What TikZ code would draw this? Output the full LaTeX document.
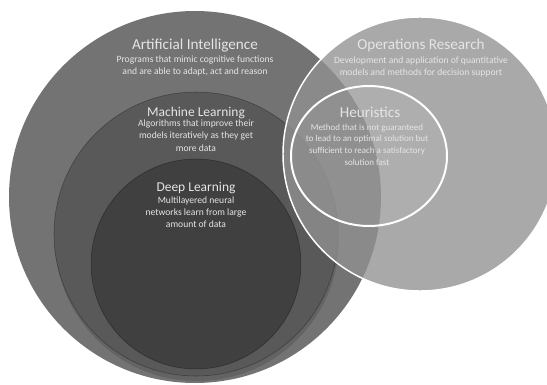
\documentclass[tikz,border=0pt]{standalone}
\usepackage{fontspec}
\setmainfont{Carlito}
\usepackage{xcolor}

\definecolor{aigray}{gray}{0.45}
\definecolor{mlshade}{gray}{0.39}
\definecolor{mlgray}{gray}{0.35}
\definecolor{dlgray}{gray}{0.25}
\definecolor{orgray}{gray}{0.57}
\definecolor{labelgray}{gray}{0.9}

\tikzset{
  every node/.style = {text=labelgray, font=\fontsize{7.2}{8.8}\selectfont}
}
\tikzset{
  heading/.style = {anchor=base, inner sep=0pt, font=\fontsize{11.4}{13}\selectfont},
  subheading/.style = {heading, font=\fontsize{10.1}{12}\selectfont},
  blurb/.style = {anchor=north, inner sep=0pt, align=center, execute at begin node=\strut},
  rim/.style = {draw=black, draw opacity=0.35, line width=0.4pt}
}

\begin{document}
\begin{tikzpicture}[x=0.75pt, y=-0.75pt]
\useasboundingbox (0,0) rectangle (547,385);
\def\rai{186}
\def\rml{142}
\def\rdl{105}
\def\ror{137}

\coordinate (AI) at (195,197);
\coordinate (MLs) at (197,239);
\coordinate (ML) at (196,234);
\coordinate (DL) at (196,264);
\coordinate (OR) at (420,154);
\coordinate (HE) at (369,156);

% The nested circles
\fill[aigray] (AI) circle[radius=\rai];
\fill[mlshade] (MLs) circle[radius=\rml];
\fill[mlgray, rim] (ML) circle[radius=\rml];
\fill[dlgray, rim] (DL) circle[radius=\rdl];

% Operations research and heuristics on top
\fill[orgray, fill opacity=0.78] (OR) circle[radius=\ror];
\draw[white, line width=1.1pt] (OR) circle[radius=\ror];
\fill[white, fill opacity=0.06] (HE) ellipse[x radius=78, y radius=70];
\draw[white, line width=1.5pt] (HE) ellipse[x radius=78, y radius=70];

% Labels
\node[heading] (aititle) at (195,49.6) {Artificial Intelligence};
\node[blurb] (aitext) at (195,55.4)
  {Programs that mimic cognitive functions\\and are able to adapt, act and reason};

\node[heading] (ortitle) at (421,49.6) {Operations Research};
\node[blurb] (ortext) at (421,57)
  {Development and application of quantitative\\models and methods for decision support};

\node[subheading] (mltitle) at (196,116.7) {Machine Learning};
\node[blurb, font=\fontsize{7.2}{9.4}\selectfont] (mltext) at (196,119.2)
  {Algorithms that improve their\\models iteratively as they get\\more data};

\node[subheading] (dltitle) at (196,191.7) {Deep Learning};
\node[blurb, font=\fontsize{7.2}{9.2}\selectfont] (dltext) at (196,196.1)
  {Multilayered neural\\networks learn from large\\amount of data};

\node[heading] (hetitle) at (370,117.9) {Heuristics};
\node[blurb, font=\fontsize{6.75}{8.7}\selectfont] (hetext) at (367,123.8)
  {Method that is not guaranteed\\to lead to an optimal solution but\\sufficient to reach a satisfactory\\solution fast};
\end{tikzpicture}
\end{document}
